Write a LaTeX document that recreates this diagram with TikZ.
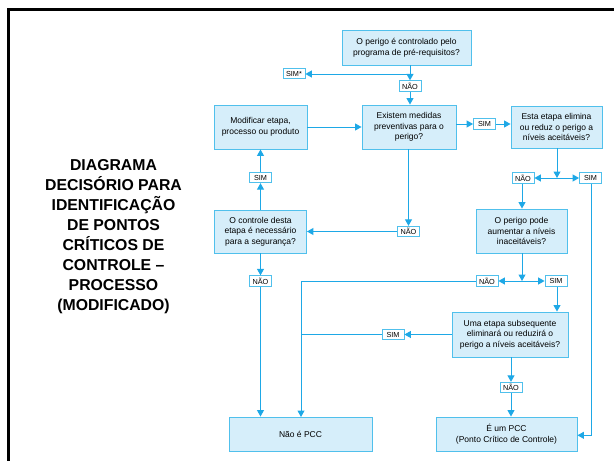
\documentclass[tikz,border=0pt]{standalone}
\usepackage{fontspec}
\setmainfont{Liberation Sans}
\usetikzlibrary{arrows.meta}
\definecolor{linec}{RGB}{30,168,230}
\definecolor{borderc}{RGB}{80,192,236}
\definecolor{fillc}{RGB}{214,238,250}
\tikzset{
  qbox/.style={draw=borderc, fill=fillc, line width=0.9pt, align=center, inner sep=1pt,
    font=\fontsize{8.5}{10.5}\selectfont},
  lbl/.style={draw=borderc, fill=white, line width=0.8pt, inner sep=0pt, minimum width=22pt,
    minimum height=10.5pt, font=\fontsize{7.3}{8}\selectfont},
  conn/.style={draw=linec, line width=1pt},
  arr/.style={conn, -{Triangle[length=6.5pt,width=7pt]}},
}
\begin{document}
\begin{tikzpicture}[x=1pt,y=-1pt]
\useasboundingbox (0,0) rectangle (614,461);
% frame
\draw[line width=3pt, line join=miter] (8.3,462) -- (8.3,9.7) -- (615,9.7);
% title
\node[align=center, font=\fontsize{15.8}{20}\selectfont\bfseries] (title) at (113.5,236.7)
  {DIAGRAMA\\DECISÓRIO PARA\\IDENTIFICAÇÃO\\DE PONTOS\\CRÍTICOS DE\\CONTROLE –\\PROCESSO\\(MODIFICADO)};
% boxes
\node[qbox, minimum width=129pt, minimum height=35pt] (q1) at (406.5,47.5)
  {O perigo é controlado pelo\\programa de pré-requisitos?};
\node[qbox, minimum width=94pt, minimum height=44pt] (q2) at (409,127)
  {Existem medidas\\preventivas para o\\perigo?};
\node[qbox, minimum width=93pt, minimum height=44pt] (mod) at (260.5,127)
  {Modificar etapa,\\processo ou produto};
\node[qbox, minimum width=92pt, minimum height=43pt] (ctrl) at (260.5,231.5)
  {O controle desta\\etapa é necessário\\para a segurança?};
\node[qbox, minimum width=91pt, minimum height=42pt] (esta) at (556.5,127)
  {Esta etapa elimina\\ou reduz o perigo a\\níveis aceitáveis?};
\node[qbox, minimum width=91pt, minimum height=44pt] (aum) at (521.5,231)
  {O perigo pode\\aumentar a níveis\\inaceitáveis?};
\node[qbox, minimum width=116pt, minimum height=45pt] (uma) at (510,334.5)
  {Uma etapa subsequente\\eliminará ou reduzirá o\\perigo a níveis aceitáveis?};
\node[qbox, minimum width=143pt, minimum height=34pt] (naopcc) at (300.5,434)
  {Não é PCC};
\node[qbox, minimum width=141pt, minimum height=34pt] (pcc) at (506.5,434)
  {É um PCC\\(Ponto Crítico de Controle)};
% labels
\node[lbl] (simstar) at (294,73.5) {SIM*};
\node[lbl] (n1) at (410,86) {NÃO};
\node[lbl] (s1) at (484.5,124) {SIM};
\node[lbl] (n2) at (408.5,231.5) {NÃO};
\node[lbl] (s2) at (260.5,177.5) {SIM};
\node[lbl] (n3) at (523,178) {NÃO};
\node[lbl] (s3) at (590.5,178) {SIM};
\node[lbl] (n4) at (260.5,281) {NÃO};
\node[lbl] (n5) at (487,281) {NÃO};
\node[lbl] (s4) at (556,281) {SIM};
\node[lbl] (s5) at (393,334.5) {SIM};
\node[lbl] (n6) at (511,387.5) {NÃO};
% junctions
\coordinate (j1) at (410,74);
\coordinate (j2) at (557,178);
\coordinate (j3) at (522,281);
\coordinate (c1) at (301,417);
% connectors
\draw[conn] (j1 |- q1.south) -- (j1);
\draw[arr] (j1) -- (n1.north);
\draw[arr] (j1) -- (simstar.east |- j1);
\draw[arr] (n1.south) -- (n1.south |- q2.north);
\draw[arr] (mod.east) -- (q2.west);
\draw[arr] (q2.east |- s1) -- (s1.west);
\draw[arr] (s1.east) -- (s1 -| esta.west);
\draw[arr] (n2 |- q2.south) -- (n2.north);
\draw[arr] (n2.west) -- (n2 -| ctrl.east);
\draw[arr] (ctrl.north) -- (s2.south);
\draw[arr] (s2.north) -- (mod.south);
\draw[arr] (n4 |- ctrl.south) -- (n4.north);
\draw[arr] (n4.south) -- (n4.south |- naopcc.north);
\draw[arr] (j2 |- esta.south) -- (j2);
\draw[arr] (j2) -- (n3.east);
\draw[arr] (j2) -- (s3.west);
\draw[arr] (n3.south -| j3) -- (j3 |- aum.north);
\draw[arr] ([xshift=1pt]s3.south) |- ([yshift=-1.3pt]pcc.east);
\draw[arr] (j3 |- aum.south) -- (j3);
\draw[arr] (j3) -- (n5.east);
\draw[arr] (j3) -- (s4.west);
\draw[arr] (n5.west) -| (c1);
\draw[arr] ([xshift=1pt]s4.south) -- ([xshift=1pt]s4.south |- uma.north);
\draw[arr] (uma.west) -- (s5.east);
\draw[conn] (s5.west) -- (s5.west -| c1);
\draw[arr] (n6 |- uma.south) -- (n6.north);
\draw[arr] (n6.south) -- (n6.south |- pcc.north);
\end{tikzpicture}
\end{document}
